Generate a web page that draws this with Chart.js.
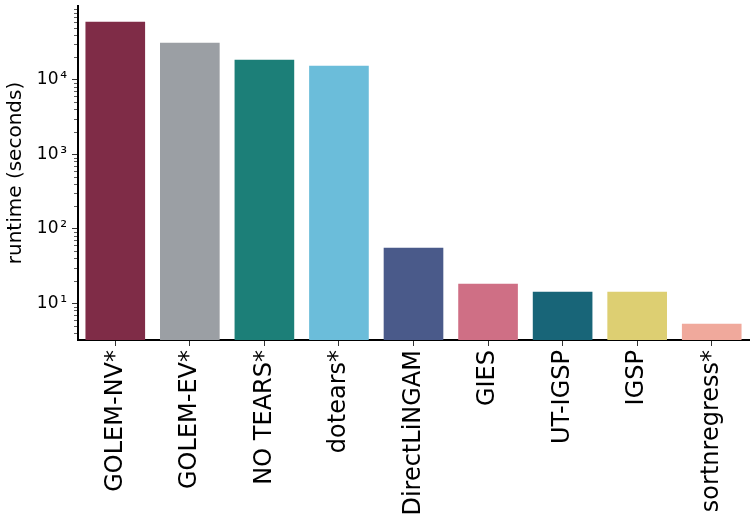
<!DOCTYPE html>
<html>
<head>
<meta charset="utf-8">
<script src="https://cdn.jsdelivr.net/npm/chart.js@4.4.1/dist/chart.umd.min.js"></script>
<style>
    html, body { margin: 0; padding: 0; background: #fff; }
    #wrap { width: 754px; height: 524px; }
</style>
</head>
<body>
<div id="wrap"><canvas id="myChart" width="754" height="524"></canvas></div>
<script>
let methods = ['GOLEM-NV*', 'GOLEM-EV*', 'NO TEARS*', 'dotears*', 'DirectLiNGAM', 'GIES', 'UT-IGSP', 'IGSP', 'sortnregress*'];
let runtime = [60000, 31400, 18600, 15400, 55.6, 18.2, 14.2, 14.2, 5.27];
let colors = ['#7f2c47', '#9b9fa4', '#1c7f78', '#6bbdda', '#4a5a8a', '#cf6f85', '#186578', '#ddcf72', '#f0a99c'];
let yTicks = [10, 100, 1000, 10000];
let yTickLabels = ['10\u200A¹', '10\u200A²', '10\u200A³', '10\u200A⁴'];

// short minor ticks on the log axis, like matplotlib
const minorTicks = {
    id: 'minorTicks',
    afterDraw(chart) {
        let y = chart.scales.y;
        let ctx = chart.ctx;
        ctx.save();
        ctx.strokeStyle = '#333';
        ctx.lineWidth = 0.8;
        for (let e = 0; e <= 4; e++) {
            for (let m = 2; m <= 9; m++) {
                let v = m * Math.pow(10, e);
                if (v < y.min || v > y.max) continue;
                let py = Math.round(y.getPixelForValue(v)) + 0.5;
                ctx.beginPath();
                ctx.moveTo(y.right - 1, py);
                ctx.lineTo(y.right - 4, py);
                ctx.stroke();
            }
        }
        ctx.restore();
    }
};

var ctx = document.getElementById('myChart');
var chart = new Chart(ctx, {
    type: 'bar',
    data: {
        labels: methods,
        datasets: [{
            data: runtime,
            backgroundColor: colors,
            borderWidth: 0,
            categoryPercentage: 0.8,
            barPercentage: 1.0
        }]
    },
    options: {
        responsive: false,
        animation: false,
        layout: { padding: { left: 0, right: 5, top: 6, bottom: 0 } },
        plugins: {
            legend: { display: false },
            tooltip: { enabled: false }
        },
        scales: {
            x: {
                offset: true,
                border: { display: true, color: '#000', width: 2 },
                grid: { display: true, drawOnChartArea: false, offset: false, tickLength: 6, tickColor: '#333', tickWidth: 1 },
                ticks: {
                    autoSkip: false,
                    maxRotation: 90,
                    minRotation: 90,
                    padding: 4,
                    color: '#000',
                    font: { family: 'DejaVu Sans', size: 24 }
                },
                afterFit: (scale) => {
                    scale.height = 184;
                    scale.paddingLeft = 0;
                    scale.paddingRight = 0;
                }
            },
            y: {
                type: 'logarithmic',
                min: 3.2,
                max: 98000,
                bounds: 'data',
                border: { display: true, color: '#000', width: 2 },
                grid: { display: true, drawOnChartArea: false, tickLength: 6, tickColor: '#333', tickWidth: 1 },
                afterBuildTicks: (scale) => {
                    scale.ticks = yTicks.map(v => ({ value: v, major: true }));
                },
                ticks: {
                    padding: 5,
                    color: '#000',
                    font: { family: 'DejaVu Sans', size: 17 },
                    callback: function (value) {
                        let i = yTicks.indexOf(value);
                        return i >= 0 ? yTickLabels[i] : '';
                    }
                },
                title: {
                    display: true,
                    text: 'runtime (seconds)',
                    color: '#000',
                    padding: { top: 4, bottom: 0 },
                    font: { family: 'DejaVu Sans', size: 20 }
                },
                afterFit: (scale) => {
                    scale.width = 78;
                    scale.paddingTop = 0;
                    scale.paddingBottom = 0;
                }
            }
        }
    },
    plugins: [minorTicks]
});
</script>
</body>
</html>
